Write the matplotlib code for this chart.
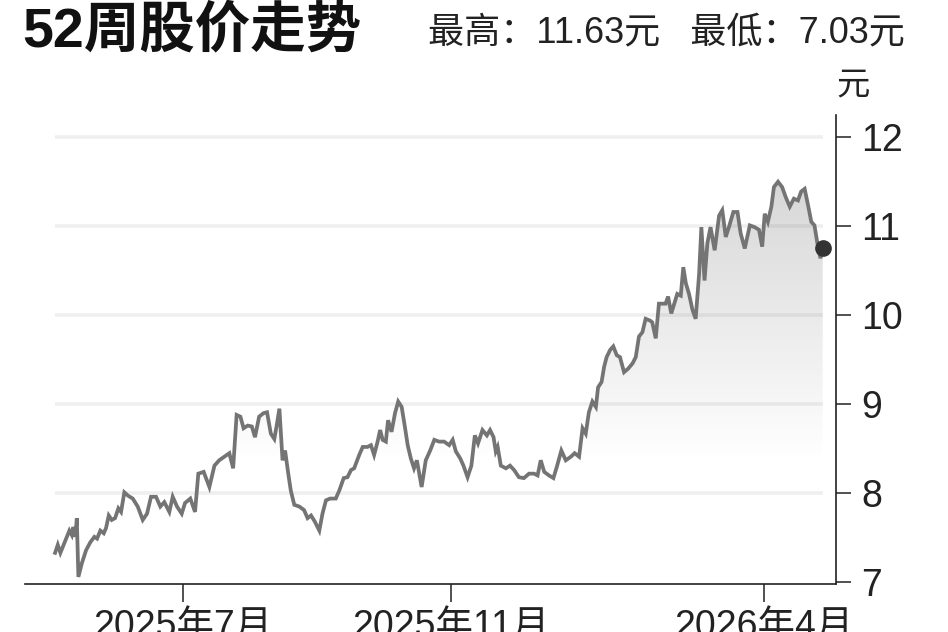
import numpy as np
import matplotlib
matplotlib.use("Agg")
import matplotlib.pyplot as plt
from matplotlib import font_manager as fm
from matplotlib.colors import LinearSegmentedColormap

# ---------------- data (trading-day index, price in 元) ----------------
day = [0, 0.85, 1.67, 2.93, 4.51, 5.27, 5.77, 6.40, 6.85, 7.35, 8.42, 9.78, 11.14,
       12.40, 13.25, 14.29, 15.36, 16.09, 16.94, 17.89, 18.93, 19.97, 20.82, 21.86,
       23.12, 24.51, 26.09, 27.67, 29.02, 30.28, 31.86, 33.22, 34.48, 36.06, 37.13,
       38.49, 39.97, 41.01, 42.68, 44.17, 45.21, 46.9, 48.7, 50.3, 51.8, 53.4, 55.0,
       56.2, 57.3, 58.5, 59.5, 60.8, 62.1, 63.1, 64.4, 65.8, 66.9, 68.1, 69.2, 69.9,
       70.8, 71.8, 72.6, 73.6, 74.4, 75.5, 77.1, 78.6, 79.7, 80.8, 82.0, 83.4, 84.4,
       85.5, 86.8, 88.6, 89.7, 91.1, 92.3, 93.4, 94.4, 96.0, 97.1, 98.6, 99.7, 100.7,
       101.8, 102.6, 103.4, 104.4, 105.1, 106.2, 107.3, 108.3, 109.4, 110.4, 111.3,
       112.3, 113.3, 114.2, 115.7, 117.0, 118.4, 119.7, 121.2, 122.8, 124.4, 125.5,
       126.5, 127.9, 128.9, 130.2, 131.4, 132.5, 133.5, 134.9, 136.3, 137.3, 138.4,
       139.1, 139.7, 140.7, 142.3, 143.6, 144.9, 146.4, 148.0, 149.6, 151.2, 152.3,
       153.3, 154.4, 155.9, 157.3, 158.4, 159.8, 161.2, 162.8, 164.0, 165.4, 166.5,
       167.5, 168.5, 169.6, 170.7, 171.4, 172.5, 173.3, 174.1, 175.2, 176.2, 177.3,
       178.3, 179.6, 180.9, 182.3, 183.3, 184.3, 185.4, 186.4, 187.8, 188.5, 189.6,
       190.6, 192.7, 193.5, 194.5, 196.4, 197.5, 198.3, 199.1, 200.1, 201.2, 202.2,
       203.3, 204.0, 205.0, 205.9, 206.9, 208.2, 209.6, 210.6, 211.7, 212.7, 214.1,
       215.4, 216.4, 217.7, 219.3, 220.8, 222.2, 223.2, 224.0, 225.0, 226.1, 226.9,
       228.2, 229.5, 230.6, 231.9, 233.2, 234.5, 235.5, 236.6, 237.6, 238.7, 239.7,
       240.8, 241.6, 242.3]
price = [7.33, 7.42, 7.33, 7.44, 7.58, 7.53, 7.62, 7.51, 7.72, 7.06, 7.21, 7.36, 7.45,
         7.51, 7.49, 7.58, 7.55, 7.61, 7.75, 7.70, 7.72, 7.83, 7.79, 8.01,
         7.97, 7.94, 7.85, 7.70, 7.77, 7.96, 7.96, 7.85, 7.90, 7.79, 7.96,
         7.85, 7.77, 7.89, 7.94, 7.79, 8.22, 8.24, 8.07, 8.31, 8.37, 8.41, 8.45,
         8.28, 8.88, 8.86, 8.73, 8.76, 8.75, 8.63, 8.86, 8.90, 8.91, 8.67, 8.61, 8.75,
         8.95, 8.37, 8.48, 8.22, 8.03, 7.87, 7.85, 7.81, 7.72, 7.75, 7.68, 7.58, 7.77,
         7.92, 7.94, 7.94, 8.03, 8.17, 8.18, 8.26, 8.28, 8.43, 8.52, 8.52, 8.54, 8.43,
         8.58, 8.71, 8.60, 8.58, 8.82, 8.69, 8.90, 9.03, 8.97, 8.75, 8.54,
         8.39, 8.28, 8.37, 8.07, 8.37, 8.48, 8.60, 8.58, 8.58, 8.54, 8.60,
         8.47, 8.39, 8.31, 8.18, 8.31, 8.65, 8.56, 8.71, 8.65, 8.71, 8.63,
         8.47, 8.52, 8.31, 8.28, 8.31, 8.26, 8.18, 8.17, 8.22, 8.22, 8.20,
         8.37, 8.24, 8.20, 8.17, 8.30, 8.48, 8.37, 8.41, 8.45, 8.41, 8.73,
         8.67, 8.91, 9.03, 8.97, 9.19, 9.25, 9.42, 9.53, 9.61, 9.65, 9.55,
         9.53, 9.36, 9.40, 9.46, 9.53, 9.76, 9.81, 9.96, 9.94, 9.92, 9.74,
         10.13, 10.13, 10.21, 10.02, 10.24, 10.22, 10.54, 10.36, 10.24, 10.06, 9.96,
         10.47, 10.99, 10.39, 10.81, 10.99, 10.73, 11.12, 11.18, 10.88, 10.99, 11.16,
         11.16, 10.92, 10.75, 11.01, 10.99, 10.96, 10.77, 11.14, 11.05, 11.22, 11.44,
         11.50, 11.44, 11.33, 11.22, 11.31, 11.29, 11.39, 11.42, 11.25, 11.05, 11.01,
         10.77, 10.64, 10.76]

tick_pos = [40.4, 124.9, 223.7]
tick_labels = ["2025年7月", "2025年11月", "2026年4月"]
y_ticks = [7, 8, 9, 10, 11, 12]
title = "52周股价走势"
subtitle = "最高：11.63元   最低：7.03元"
unit = "元"

# ---------------- fonts ----------------
names = {f.name for f in fm.fontManager.ttflist}
narrow = "Liberation Sans Narrow" if "Liberation Sans Narrow" in names else "Liberation Sans"
fam = [narrow, "Noto Sans CJK SC", "DejaVu Sans"]
plt.rcParams["font.family"] = fam

W, H = 948, 632
fig = plt.figure(figsize=(W / 100, H / 100), dpi=100)
ax = fig.add_axes([25 / W, 1 - 584 / H, (836 - 25) / W, (584 - 115) / H])

x = np.array(day)
y = np.array(price)

ax.set_xlim(-9.5, 246.5)
ax.set_ylim(6.98, 12.25)

# grid lines (only across the data span)
for v in [8, 9, 10, 11, 12]:
    ax.plot([x.min(), x.max()], [v, v], color="#efefef", lw=2.6, zorder=0,
            solid_capstyle="butt")

# gradient fill under the line
poly = ax.fill_between(x, y, 6.98, color="none", lw=0, zorder=1)
grad_vals = np.clip((np.linspace(12.25, 6.98, 256) - 8.35) / (11.6 - 8.35), 0, 1).reshape(-1, 1)
im = ax.imshow(grad_vals, extent=[x.min(), x.max(), 6.98, 12.25], aspect="auto",
               cmap=LinearSegmentedColormap.from_list(
                   "g2", [(0.35, 0.35, 0.35, 0.0), (0.35, 0.35, 0.35, 0.25)]),
               vmin=0, vmax=1, origin="upper", zorder=1, interpolation="bicubic")
im.set_clip_path(poly.get_paths()[0], transform=ax.transData)

ax.plot(x, y, color="#747474", lw=2.7, zorder=3, solid_joinstyle="miter")
ax.plot([x[-1]], [y[-1]], "o", color="#333333", markersize=11, zorder=4)

# spines
for s in ["left", "top"]:
    ax.spines[s].set_visible(False)
for s in ["bottom", "right"]:
    ax.spines[s].set_linewidth(1.2)
    ax.spines[s].set_color("#222222")

ax.yaxis.tick_right()
ax.set_yticks(y_ticks)
ax.set_yticklabels([str(v) for v in y_ticks])
ax.tick_params(axis="y", direction="out", length=11, width=1.1, pad=7,
               labelsize=27, colors="#222222", left=False)
ax.set_xticks(tick_pos)
ax.set_xticklabels(tick_labels)
ax.tick_params(axis="x", direction="out", length=13, width=1.1, pad=5,
               labelsize=27, colors="#222222")

fig.text(22 / W, 1 - 46 / H, title, fontsize=40, fontweight="heavy",
         ha="left", va="baseline", color="#111111")
fig.text(428 / W, 1 - 42 / H, subtitle, fontsize=26, ha="left", va="baseline",
         color="#222222")
fig.text(853 / W, 1 - 86 / H, unit, fontsize=24, ha="center", va="center",
         color="#222222")

fig.savefig("out.png", dpi=100, facecolor="white")
